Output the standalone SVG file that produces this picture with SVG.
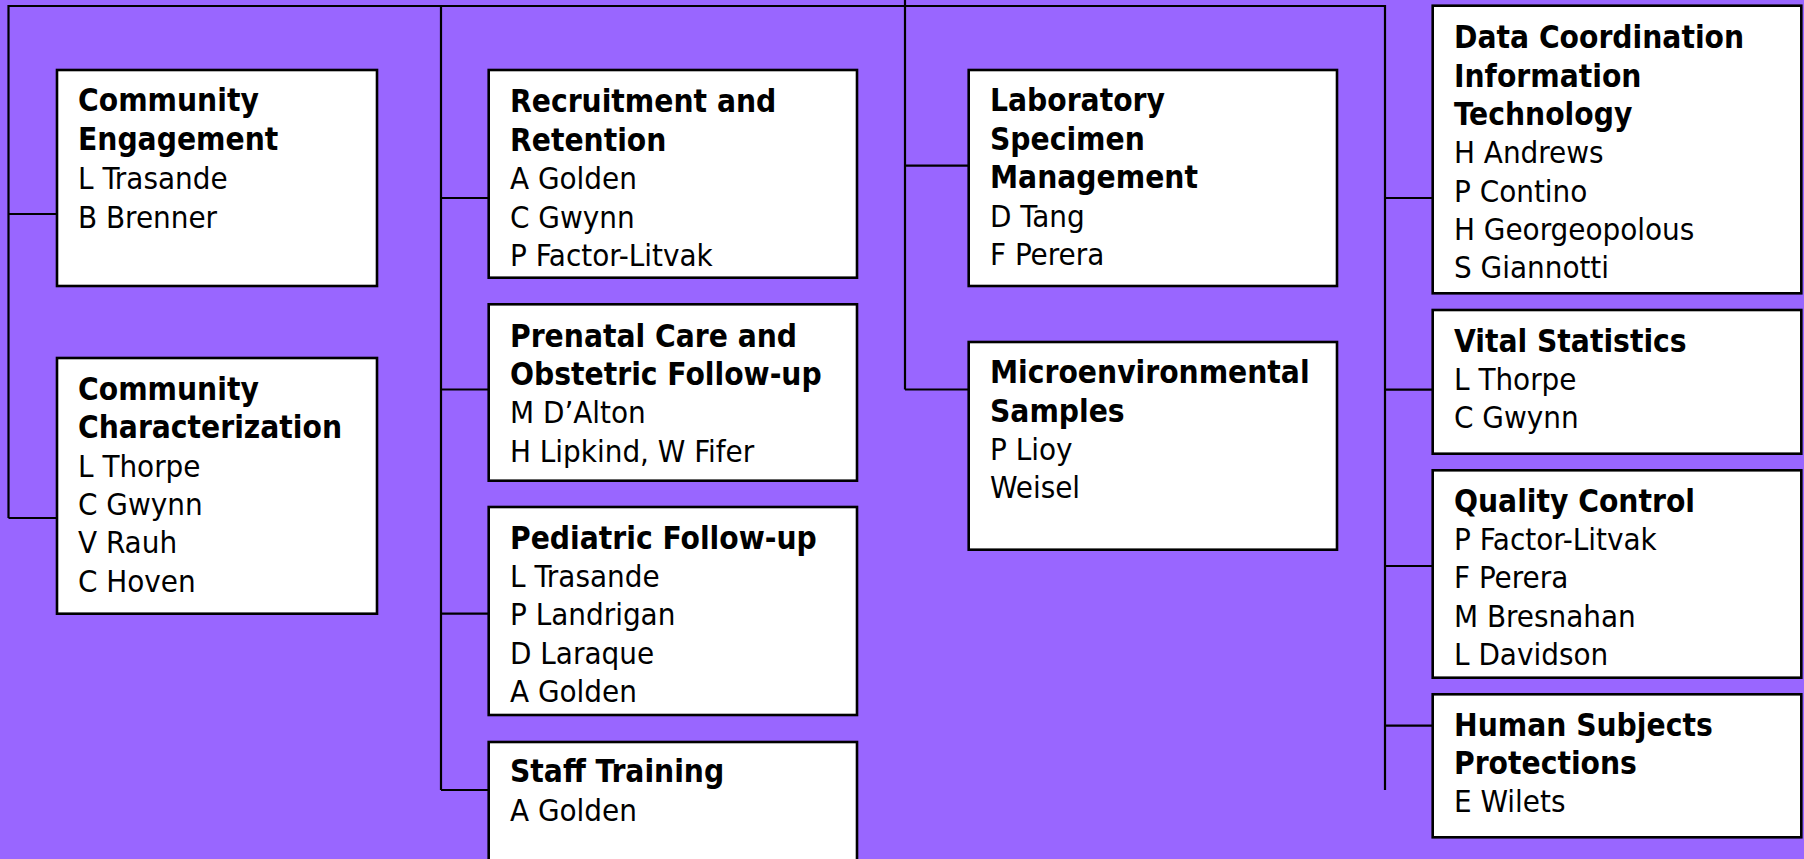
<svg xmlns="http://www.w3.org/2000/svg" width="1804" height="859" viewBox="0 0 1804 859">
<style>
.box{fill:#ffffff;stroke:#000000;stroke-width:2.6}
.ln{fill:none;stroke:#000000;stroke-width:2.2}
text{font-family:"DejaVu Sans Condensed","DejaVu Sans",sans-serif;font-size:31px;fill:#000000}
.b{font-weight:bold;font-size:31.4px}
</style>
<rect x="0" y="0" width="1804" height="859" fill="#9966FF"/>
<g id="connectors">
<path class="ln" d="M905,0 V389.5"/>
<path class="ln" d="M8.5,518 V6 H1385 V790"/>
<path class="ln" d="M8.5,214 H57"/>
<path class="ln" d="M8.5,518 H57"/>
<path class="ln" d="M441,6 V790"/>
<path class="ln" d="M441,198 H488.7"/>
<path class="ln" d="M441,389.5 H488.7"/>
<path class="ln" d="M441,613.7 H488.7"/>
<path class="ln" d="M441,790 H488.7"/>
<path class="ln" d="M905,165.7 H968.7"/>
<path class="ln" d="M905,389.5 H968.7"/>
<path class="ln" d="M1385,198 H1432.7"/>
<path class="ln" d="M1385,389.7 H1432.7"/>
<path class="ln" d="M1385,566 H1432.7"/>
<path class="ln" d="M1385,725.7 H1432.7"/>
</g>
<g id="community-engagement">
<rect class="box" x="57" y="70" width="320" height="216"/>
<text x="78" y="111" class="b">Community</text>
<text x="78" y="150" class="b">Engagement</text>
<text x="78" y="189">L Trasande</text>
<text x="78" y="227.5">B Brenner</text>
</g>
<g id="community-characterization">
<rect class="box" x="57" y="358" width="320" height="255.7"/>
<text x="78" y="400" class="b">Community</text>
<text x="78" y="438.3" class="b">Characterization</text>
<text x="78" y="476.7">L Thorpe</text>
<text x="78" y="515">C Gwynn</text>
<text x="78" y="553.3">V Rauh</text>
<text x="78" y="591.7">C Hoven</text>
</g>
<g id="recruitment-retention">
<rect class="box" x="488.7" y="70" width="368.3" height="207.7"/>
<text x="510" y="111.7" class="b">Recruitment and</text>
<text x="510" y="150.5" class="b">Retention</text>
<text x="510" y="189">A Golden</text>
<text x="510" y="227.5">C Gwynn</text>
<text x="510" y="265.7">P Factor-Litvak</text>
</g>
<g id="prenatal-care">
<rect class="box" x="488.7" y="304.3" width="368.3" height="176.4"/>
<text x="510" y="346.7" class="b">Prenatal Care and</text>
<text x="510" y="385" class="b">Obstetric Follow-up</text>
<text x="510" y="423.3">M D’Alton</text>
<text x="510" y="461.7">H Lipkind, W Fifer</text>
</g>
<g id="pediatric-follow-up">
<rect class="box" x="488.7" y="507" width="368.3" height="208"/>
<text x="510" y="549.3" class="b">Pediatric Follow-up</text>
<text x="510" y="586.7">L Trasande</text>
<text x="510" y="625">P Landrigan</text>
<text x="510" y="664">D Laraque</text>
<text x="510" y="702.3">A Golden</text>
</g>
<g id="staff-training">
<rect class="box" x="488.7" y="742" width="368.3" height="130"/>
<text x="510" y="782.3" class="b">Staff Training</text>
<text x="510" y="821">A Golden</text>
</g>
<g id="laboratory-specimen">
<rect class="box" x="968.7" y="70" width="368.3" height="216"/>
<text x="990" y="111" class="b">Laboratory</text>
<text x="990" y="150" class="b">Specimen</text>
<text x="990" y="188.3" class="b">Management</text>
<text x="990" y="226.7">D Tang</text>
<text x="990" y="265">F Perera</text>
</g>
<g id="microenvironmental">
<rect class="box" x="968.7" y="342" width="368.3" height="207.7"/>
<text x="990" y="383.3" class="b">Microenvironmental</text>
<text x="990" y="421.7" class="b">Samples</text>
<text x="990" y="460">P Lioy</text>
<text x="990" y="498.3">Weisel</text>
</g>
<g id="data-coordination">
<rect class="box" x="1432.7" y="5.7" width="368.6" height="287.6"/>
<text x="1454" y="47.7" class="b">Data Coordination</text>
<text x="1454" y="87.3" class="b">Information</text>
<text x="1454" y="125" class="b">Technology</text>
<text x="1454" y="163.3">H Andrews</text>
<text x="1454" y="201.7">P Contino</text>
<text x="1454" y="240">H Georgeopolous</text>
<text x="1454" y="277.7">S Giannotti</text>
</g>
<g id="vital-statistics">
<rect class="box" x="1432.7" y="310" width="368.6" height="143.7"/>
<text x="1454" y="351.7" class="b">Vital Statistics</text>
<text x="1454" y="390">L Thorpe</text>
<text x="1454" y="428.3">C Gwynn</text>
</g>
<g id="quality-control">
<rect class="box" x="1432.7" y="470.3" width="368.6" height="207.4"/>
<text x="1454" y="511.7" class="b">Quality Control</text>
<text x="1454" y="550">P Factor-Litvak</text>
<text x="1454" y="588.3">F Perera</text>
<text x="1454" y="626.7">M Bresnahan</text>
<text x="1454" y="665">L Davidson</text>
</g>
<g id="human-subjects">
<rect class="box" x="1432.7" y="694.3" width="368.6" height="143"/>
<text x="1454" y="736" class="b">Human Subjects</text>
<text x="1454" y="774.3" class="b">Protections</text>
<text x="1454" y="812.3">E Wilets</text>
</g>
</svg>
